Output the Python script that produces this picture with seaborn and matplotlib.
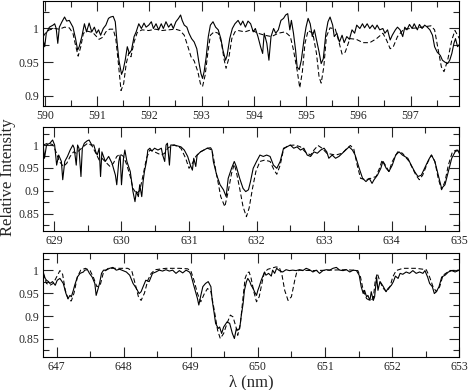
import numpy as np
import pandas as pd
import matplotlib
matplotlib.use("Agg")
import matplotlib.pyplot as plt
import seaborn as sns
from matplotlib.ticker import MultipleLocator

# ---- panel 1 (590-598 nm) ----
wl1_obs = [589.97, 590.00, 590.03, 590.09, 590.16, 590.19, 590.22, 590.25, 590.28, 590.33,
           590.38, 590.42, 590.47, 590.54, 590.59, 590.63, 590.66, 590.71, 590.76, 590.80,
           590.85, 590.90, 590.95, 590.99, 591.03, 591.07, 591.12, 591.17, 591.22, 591.26,
           591.31, 591.35, 591.38, 591.42, 591.47, 591.50, 591.54, 591.58, 591.62, 591.66,
           591.71, 591.75, 591.80, 591.85, 591.90, 591.94, 591.99, 592.04, 592.08, 592.13,
           592.18, 592.23, 592.27, 592.32, 592.37, 592.42, 592.46, 592.51, 592.56, 592.60,
           592.63, 592.67, 592.72, 592.76, 592.81, 592.86, 592.91, 592.95, 592.99, 593.02,
           593.05, 593.09, 593.13, 593.17, 593.22, 593.27, 593.32, 593.37, 593.41, 593.46,
           593.49, 593.54, 593.59, 593.64, 593.70, 593.75, 593.79, 593.84, 593.89, 593.94,
           593.99, 594.03, 594.08, 594.13, 594.17, 594.20, 594.25, 594.29, 594.33, 594.38,
           594.42, 594.47, 594.52, 594.57, 594.61, 594.65, 594.69, 594.72, 594.76, 594.80,
           594.83, 594.87, 594.91, 594.96, 595.00, 595.04, 595.08, 595.12, 595.16, 595.20,
           595.25, 595.29, 595.33, 595.38, 595.42, 595.46, 595.51, 595.54, 595.59, 595.64,
           595.69, 595.73, 595.78, 595.83, 595.88, 595.93, 595.97, 596.03, 596.08, 596.12,
           596.17, 596.22, 596.27, 596.32, 596.36, 596.41, 596.47, 596.51, 596.56, 596.61,
           596.65, 596.71, 596.75, 596.80, 596.85, 596.89, 596.93, 596.98, 597.03, 597.07,
           597.13, 597.17, 597.22, 597.27, 597.32, 597.37, 597.42, 597.46, 597.51, 597.57,
           597.61, 597.66, 597.71, 597.75, 597.79, 597.83, 597.86, 597.90, 597.95]
int1_obs = [0.983, 0.973, 0.993, 1.002, 1.005, 1.007, 1.000, 0.978, 1.002, 1.010,
            1.017, 1.011, 1.012, 1.002, 0.985, 0.968, 0.973, 0.988, 1.007, 0.995,
            1.008, 0.995, 1.002, 0.993, 0.998, 0.990, 1.000, 1.005, 1.015, 1.017,
            1.018, 1.010, 0.983, 0.953, 0.932, 0.938, 0.953, 0.973, 0.963, 0.968,
            0.988, 0.995, 1.007, 1.000, 1.008, 1.002, 1.005, 1.010, 1.000, 1.007,
            0.998, 1.007, 1.000, 1.010, 1.002, 1.007, 1.000, 1.010, 1.015, 1.020,
            1.012, 1.005, 1.002, 0.993, 0.985, 0.980, 0.970, 0.950, 0.933, 0.926,
            0.936, 0.958, 0.988, 1.005, 1.010, 1.002, 0.998, 0.985, 0.968, 0.953,
            0.960, 0.985, 1.000, 1.007, 1.012, 1.005, 1.011, 1.002, 1.011, 1.007,
            0.995, 1.000, 0.988, 0.973, 0.963, 0.993, 0.978, 0.953, 0.988, 1.000,
            0.993, 0.998, 1.012, 1.015, 1.020, 1.022, 0.998, 1.012, 0.993, 0.968,
            0.943, 0.939, 0.953, 0.983, 1.002, 1.015, 1.007, 0.988, 0.998, 0.983,
            0.965, 0.948, 0.955, 0.993, 1.010, 1.017, 1.005, 0.988, 0.993, 0.980,
            0.990, 0.979, 0.988, 0.984, 0.998, 0.993, 1.005, 1.000, 1.007, 1.001,
            1.007, 1.000, 1.005, 0.999, 1.005, 0.998, 1.000, 0.993, 0.998, 0.983,
            0.990, 0.998, 1.002, 0.998, 0.988, 1.002, 0.998, 1.006, 1.000, 1.007,
            0.998, 1.006, 1.000, 1.005, 1.002, 0.998, 0.990, 0.973, 0.965, 0.960,
            0.953, 0.950, 0.948, 0.953, 0.963, 0.978, 0.985, 0.973, 0.978]
wl1_mod = [589.97, 590.03, 590.09, 590.19, 590.28, 590.38, 590.47, 590.54, 590.59, 590.64,
           590.69, 590.74, 590.82, 590.92, 590.98, 591.04, 591.11, 591.17, 591.24, 591.31,
           591.36, 591.41, 591.46, 591.51, 591.56, 591.61, 591.65, 591.71, 591.77, 591.86,
           591.99, 592.12, 592.24, 592.37, 592.50, 592.59, 592.67, 592.74, 592.80, 592.86,
           592.93, 592.98, 593.02, 593.07, 593.12, 593.17, 593.24, 593.32, 593.38, 593.43,
           593.47, 593.52, 593.58, 593.64, 593.70, 593.83, 593.95, 594.08, 594.21, 594.34,
           594.47, 594.60, 594.70, 594.76, 594.83, 594.88, 594.93, 594.98, 595.04, 595.13,
           595.20, 595.25, 595.29, 595.34, 595.39, 595.46, 595.56, 595.62, 595.69, 595.75,
           595.84, 595.96, 596.09, 596.22, 596.35, 596.47, 596.54, 596.61, 596.67, 596.75,
           596.87, 597.13, 597.39, 597.46, 597.53, 597.59, 597.64, 597.71, 597.79, 597.85,
           597.90, 597.95]
int1_mod = [0.988, 0.995, 0.998, 1.000, 0.999, 1.002, 1.001, 0.993, 0.975, 0.959,
            0.973, 0.993, 0.996, 0.994, 0.989, 0.984, 0.987, 0.995, 0.999, 0.999,
            0.985, 0.948, 0.908, 0.918, 0.948, 0.964, 0.958, 0.980, 0.994, 0.998,
            0.997, 0.999, 0.997, 0.998, 0.999, 0.997, 0.990, 0.973, 0.958, 0.952,
            0.936, 0.918, 0.914, 0.931, 0.963, 0.990, 0.995, 0.993, 0.980, 0.955,
            0.941, 0.955, 0.985, 0.995, 0.997, 0.995, 0.998, 0.993, 0.990, 0.988,
            0.993, 0.995, 0.988, 0.968, 0.938, 0.912, 0.936, 0.978, 0.997, 0.993,
            0.963, 0.928, 0.919, 0.943, 0.988, 1.001, 0.999, 0.983, 0.962, 0.965,
            0.985, 0.984, 0.979, 0.979, 0.985, 0.993, 0.983, 0.970, 0.973, 0.988,
            0.999, 1.001, 1.004, 0.998, 0.968, 0.943, 0.936, 0.953, 0.983, 0.997,
            0.990, 0.983]

# ---- panel 2 (629-635 nm) ----
wl2_obs = [628.84, 628.86, 628.89, 628.94, 628.98, 629.01, 629.04, 629.07, 629.11, 629.13,
           629.16, 629.20, 629.24, 629.28, 629.30, 629.33, 629.35, 629.37, 629.40, 629.42,
           629.45, 629.49, 629.52, 629.56, 629.59, 629.62, 629.64, 629.67, 629.69, 629.71,
           629.76, 629.81, 629.86, 629.91, 629.93, 629.96, 629.98, 630.00, 630.03, 630.05,
           630.08, 630.13, 630.15, 630.17, 630.20, 630.22, 630.25, 630.27, 630.30, 630.32,
           630.34, 630.37, 630.39, 630.42, 630.45, 630.49, 630.54, 630.59, 630.61, 630.64,
           630.66, 630.68, 630.71, 630.73, 630.78, 630.83, 630.88, 630.93, 630.98, 631.02,
           631.05, 631.07, 631.10, 631.12, 631.17, 631.22, 631.27, 631.32, 631.34, 631.36,
           631.41, 631.46, 631.51, 631.55, 631.58, 631.63, 631.67, 631.70, 631.75, 631.80,
           631.84, 631.88, 631.91, 631.95, 632.00, 632.05, 632.10, 632.15, 632.20, 632.25,
           632.30, 632.35, 632.40, 632.45, 632.50, 632.55, 632.60, 632.65, 632.70, 632.75,
           632.80, 632.85, 632.90, 632.95, 633.00, 633.04, 633.07, 633.12, 633.17, 633.22,
           633.27, 633.32, 633.37, 633.42, 633.46, 633.52, 633.57, 633.62, 633.67, 633.71,
           633.74, 633.79, 633.84, 633.87, 633.92, 633.96, 634.01, 634.06, 634.11, 634.16,
           634.24, 634.29, 634.34, 634.39, 634.44, 634.51, 634.56, 634.59, 634.64, 634.69,
           634.74, 634.79, 634.84, 634.89, 634.94, 634.98, 635.00]
int2_obs = [1.000, 0.971, 1.000, 1.004, 1.011, 1.000, 0.956, 0.978, 0.964, 0.924,
            0.964, 0.975, 0.989, 1.000, 0.993, 0.956, 1.000, 0.993, 0.931, 0.993,
            1.004, 1.009, 1.011, 1.000, 1.000, 0.985, 0.978, 0.993, 0.931, 0.985,
            0.964, 0.975, 0.960, 0.934, 0.913, 0.964, 0.978, 0.913, 0.971, 0.989,
            0.964, 0.942, 0.920, 0.898, 0.876, 0.898, 0.887, 0.913, 0.887, 0.920,
            0.942, 0.964, 0.989, 0.993, 0.987, 0.993, 0.989, 0.993, 0.978, 0.964,
            1.000, 1.004, 0.956, 1.000, 1.000, 0.998, 0.996, 0.989, 0.975, 0.956,
            0.945, 0.971, 0.953, 0.978, 0.985, 0.989, 0.993, 0.994, 0.989, 0.964,
            0.934, 0.913, 0.902, 0.887, 0.927, 0.949, 0.964, 0.953, 0.927, 0.905,
            0.898, 0.902, 0.920, 0.949, 0.964, 0.978, 0.975, 0.978, 0.975, 0.956,
            0.949, 0.964, 0.993, 0.996, 1.000, 0.993, 0.996, 0.989, 0.993, 0.978,
            0.975, 0.985, 0.982, 0.989, 0.993, 0.985, 0.971, 0.978, 0.971, 0.975,
            0.982, 0.989, 0.996, 0.989, 0.978, 0.949, 0.927, 0.920, 0.927, 0.916,
            0.924, 0.934, 0.949, 0.964, 0.949, 0.942, 0.956, 0.978, 0.985, 0.978,
            0.971, 0.956, 0.942, 0.931, 0.934, 0.956, 0.971, 0.978, 0.964, 0.934,
            0.905, 0.913, 0.942, 0.971, 0.985, 0.989, 0.982]
wl2_mod = [628.84, 628.91, 628.98, 629.02, 629.08, 629.14, 629.19, 629.24, 629.29, 629.33,
           629.38, 629.43, 629.50, 629.56, 629.62, 629.67, 629.71, 629.77, 629.83, 629.88,
           629.93, 629.98, 630.03, 630.08, 630.13, 630.17, 630.22, 630.27, 630.32, 630.37,
           630.42, 630.49, 630.59, 630.64, 630.69, 630.78, 630.88, 630.95, 631.00, 631.05,
           631.10, 631.17, 631.27, 631.34, 631.41, 631.47, 631.53, 631.58, 631.63, 631.67,
           631.70, 631.75, 631.80, 631.85, 631.89, 631.94, 631.99, 632.05, 632.12, 632.20,
           632.26, 632.30, 632.35, 632.40, 632.47, 632.57, 632.65, 632.72, 632.80, 632.85,
           632.91, 632.97, 633.04, 633.17, 633.27, 633.34, 633.39, 633.44, 633.49, 633.54,
           633.62, 633.69, 633.77, 633.82, 633.86, 633.92, 633.96, 634.01, 634.09, 634.16,
           634.26, 634.36, 634.41, 634.46, 634.54, 634.59, 634.64, 634.69, 634.74, 634.79,
           634.84, 634.90, 634.96, 635.00]
int2_mod = [1.000, 1.004, 1.001, 0.989, 0.964, 0.953, 0.960, 0.975, 0.985, 0.982,
            0.989, 0.996, 1.004, 0.999, 0.982, 0.967, 0.971, 0.962, 0.953, 0.960,
            0.975, 0.980, 0.975, 0.956, 0.931, 0.905, 0.894, 0.900, 0.934, 0.971,
            0.989, 0.985, 0.978, 0.982, 0.994, 1.000, 0.993, 0.971, 0.949, 0.960,
            0.975, 0.985, 0.993, 0.989, 0.934, 0.887, 0.865, 0.898, 0.938, 0.958,
            0.942, 0.905, 0.865, 0.843, 0.862, 0.905, 0.942, 0.964, 0.967, 0.964,
            0.945, 0.936, 0.956, 0.991, 0.999, 1.000, 0.996, 0.985, 0.978, 0.989,
            0.999, 0.993, 0.982, 0.978, 0.982, 0.993, 0.999, 0.991, 0.956, 0.927,
            0.924, 0.927, 0.931, 0.949, 0.967, 0.953, 0.942, 0.964, 0.985, 0.982,
            0.964, 0.934, 0.924, 0.934, 0.964, 0.978, 0.964, 0.927, 0.902, 0.920,
            0.956, 0.985, 0.989, 0.985]

# ---- panel 3 (647-653 nm) ----
wl3_obs = [646.80, 646.83, 646.85, 646.88, 646.90, 646.94, 646.98, 647.01, 647.05, 647.10,
           647.14, 647.17, 647.20, 647.22, 647.25, 647.27, 647.31, 647.35, 647.40, 647.42,
           647.46, 647.49, 647.53, 647.57, 647.59, 647.62, 647.64, 647.67, 647.70, 647.74,
           647.79, 647.84, 647.89, 647.94, 647.99, 648.04, 648.09, 648.14, 648.19, 648.23,
           648.26, 648.29, 648.33, 648.38, 648.43, 648.48, 648.53, 648.58, 648.63, 648.68,
           648.73, 648.78, 648.83, 648.88, 648.93, 648.98, 649.00, 649.05, 649.10, 649.12,
           649.15, 649.18, 649.22, 649.26, 649.30, 649.32, 649.35, 649.37, 649.41, 649.43,
           649.46, 649.49, 649.54, 649.58, 649.62, 649.65, 649.68, 649.70, 649.73, 649.75,
           649.78, 649.80, 649.83, 649.85, 649.88, 649.90, 649.93, 649.95, 649.98, 650.00,
           650.02, 650.05, 650.07, 650.10, 650.12, 650.16, 650.20, 650.22, 650.25, 650.28,
           650.32, 650.37, 650.42, 650.47, 650.52, 650.57, 650.62, 650.67, 650.72, 650.77,
           650.82, 650.87, 650.92, 650.97, 651.02, 651.07, 651.12, 651.17, 651.22, 651.27,
           651.32, 651.37, 651.42, 651.47, 651.51, 651.54, 651.57, 651.59, 651.62, 651.64,
           651.67, 651.69, 651.72, 651.74, 651.77, 651.79, 651.82, 651.84, 651.87, 651.91,
           651.94, 651.99, 652.02, 652.05, 652.09, 652.12, 652.16, 652.21, 652.26, 652.31,
           652.36, 652.41, 652.46, 652.49, 652.53, 652.56, 652.60, 652.63, 652.66, 652.70,
           652.74, 652.79, 652.84, 652.89, 652.94, 653.00]
int3_obs = [0.996, 0.982, 0.978, 0.975, 0.971, 0.975, 0.967, 0.978, 0.982, 0.971,
            0.949, 0.938, 0.945, 0.942, 0.956, 0.967, 0.985, 0.993, 0.996, 1.000,
            1.001, 0.993, 0.985, 0.971, 0.945, 0.960, 0.971, 0.993, 1.000, 1.000,
            1.004, 1.006, 1.000, 1.002, 0.999, 0.996, 0.989, 0.971, 0.960, 0.949,
            0.953, 0.964, 0.978, 0.975, 0.993, 0.996, 1.000, 0.998, 1.001, 0.998,
            1.000, 0.993, 0.999, 0.994, 1.000, 0.996, 0.991, 0.964, 0.938, 0.924,
            0.945, 0.964, 0.971, 0.975, 0.964, 0.934, 0.905, 0.884, 0.873, 0.876,
            0.862, 0.876, 0.887, 0.884, 0.862, 0.851, 0.873, 0.869, 0.873, 0.898,
            0.927, 0.956, 0.975, 0.982, 0.975, 0.967, 0.960, 0.953, 0.945, 0.956,
            0.964, 0.978, 0.985, 0.996, 0.989, 0.993, 0.987, 1.000, 0.993, 1.004,
            0.999, 0.996, 1.001, 0.999, 1.000, 0.999, 1.001, 0.999, 1.004, 1.001,
            0.996, 1.000, 0.993, 0.999, 1.001, 1.000, 1.004, 1.006, 1.000, 0.999,
            1.001, 0.996, 1.000, 0.999, 0.989, 0.964, 0.949, 0.956, 0.942, 0.945,
            0.934, 0.953, 0.934, 0.942, 0.985, 0.956, 0.975, 0.971, 0.964, 0.953,
            0.960, 0.967, 0.975, 0.987, 0.982, 0.993, 0.991, 0.996, 0.993, 0.999,
            0.993, 0.996, 0.993, 0.999, 0.985, 0.971, 0.964, 0.949, 0.953, 0.964,
            0.985, 0.989, 0.996, 0.999, 0.996, 1.000]
wl3_mod = [646.80, 646.85, 646.90, 646.95, 647.00, 647.05, 647.09, 647.13, 647.18, 647.22,
           647.26, 647.31, 647.36, 647.43, 647.50, 647.55, 647.60, 647.65, 647.70, 647.77,
           647.94, 648.06, 648.12, 648.17, 648.22, 648.26, 648.31, 648.36, 648.41, 648.47,
           648.63, 648.83, 648.95, 649.00, 649.05, 649.10, 649.15, 649.20, 649.25, 649.30,
           649.35, 649.40, 649.44, 649.49, 649.54, 649.59, 649.63, 649.68, 649.70, 649.74,
           649.78, 649.81, 649.84, 649.87, 649.90, 649.94, 649.98, 650.02, 650.07, 650.10,
           650.15, 650.27, 650.32, 650.36, 650.40, 650.45, 650.50, 650.55, 650.58, 650.62,
           650.82, 651.07, 651.32, 651.49, 651.53, 651.57, 651.62, 651.67, 651.72, 651.75,
           651.78, 651.82, 651.87, 651.92, 651.97, 652.01, 652.06, 652.16, 652.36, 652.51,
           652.56, 652.61, 652.66, 652.71, 652.76, 652.86, 653.00]
int3_mod = [0.993, 0.971, 0.967, 0.971, 0.985, 0.999, 0.991, 0.956, 0.934, 0.933,
            0.950, 0.985, 1.000, 1.004, 0.999, 0.984, 0.964, 0.967, 0.996, 1.004,
            1.004, 1.004, 0.999, 0.971, 0.942, 0.934, 0.950, 0.978, 0.993, 1.001,
            1.004, 1.004, 1.003, 0.999, 0.977, 0.949, 0.931, 0.948, 0.960, 0.953,
            0.913, 0.869, 0.851, 0.862, 0.884, 0.902, 0.898, 0.873, 0.858, 0.884,
            0.942, 0.982, 0.994, 0.996, 0.982, 0.953, 0.931, 0.942, 0.978, 0.996,
            1.002, 1.007, 1.006, 0.989, 0.956, 0.934, 0.942, 0.978, 0.996, 1.000,
            0.999, 1.000, 1.001, 0.999, 0.985, 0.956, 0.938, 0.934, 0.938, 0.978,
            0.993, 0.975, 0.960, 0.953, 0.964, 0.985, 0.999, 1.004, 1.004, 1.001,
            0.985, 0.964, 0.953, 0.964, 0.989, 0.999, 1.000]

sns.set_theme(style="ticks")
plt.rcParams["font.family"] = ["Liberation Serif", "DejaVu Serif"]

fig = plt.figure(figsize=(4.69, 3.90), dpi=100)
left, width = 0.092, 0.887
boxes = [(0.728, 0.269), (0.408, 0.267), (0.085, 0.267)]
panels = [
    (wl1_obs, int1_obs, wl1_mod, int1_mod, (589.97, 597.93), (0.885, 1.0405), [0.9, 0.95, 1.0]),
    (wl2_obs, int2_obs, wl2_mod, int2_mod, (628.84, 635.0), (0.812, 1.040), [0.85, 0.9, 0.95, 1.0]),
    (wl3_obs, int3_obs, wl3_mod, int3_mod, (646.80, 653.0), (0.811, 1.038), [0.85, 0.9, 0.95, 1.0]),
]

axes = []
for (b, h), (wo, io, wm, im, xl, yl, yt) in zip(boxes, panels):
    ax = fig.add_axes([left, b, width, h])
    obs = pd.DataFrame({"wl": wo, "I": io})
    mod = pd.DataFrame({"wl": wm, "I": im})
    # observed spectrum (solid) and model (dashed)
    sns.lineplot(data=obs, x="wl", y="I", ax=ax, color="black", lw=0.8, estimator=None)
    sns.lineplot(data=mod, x="wl", y="I", ax=ax, color="black", lw=0.75, estimator=None,
                 linestyle=(0, (4.5, 2.5)))
    ax.set_xlim(*xl)
    ax.set_ylim(*yl)
    ax.xaxis.set_major_locator(MultipleLocator(1))
    ax.xaxis.set_minor_locator(MultipleLocator(0.5))
    ax.set_yticks(yt)
    ax.set_yticklabels([f"{v:g}" for v in yt])
    ax.yaxis.set_minor_locator(MultipleLocator(0.025))
    ax.tick_params(which="both", direction="in", top=True, right=True, labelsize=8.5,
                   width=0.8, pad=3)
    ax.tick_params(which="major", length=7)
    ax.tick_params(which="minor", length=4)
    for s in ax.spines.values():
        s.set_linewidth(0.8)
        s.set_color("black")
    ax.set_xlabel("")
    ax.set_ylabel("")
    axes.append(ax)

axes[1].set_ylabel("Relative Intensity", fontsize=12)
axes[1].yaxis.set_label_coords(-0.066, 0.52)
axes[2].set_xlabel("λ (nm)", fontsize=12, labelpad=1)

fig.savefig("out.png", dpi=100)
